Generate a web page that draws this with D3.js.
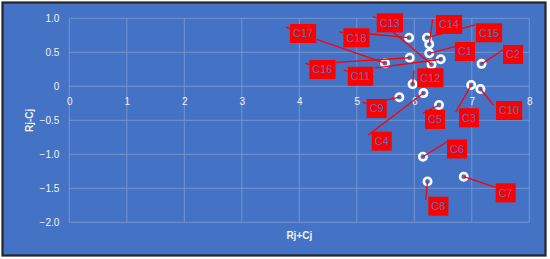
<!DOCTYPE html>
<html>
<head>
<meta charset="utf-8">
<script src="https://cdn.jsdelivr.net/npm/d3@7"></script>
<style>
  body { margin: 0; background: #ffffff; }
  svg { display: block; font-family: "Liberation Sans", Arial, sans-serif; }
</style>
</head>
<body>
<div id="chart"></div>
<script>
//scatter of Rj+Cj against Rj-Cj, one labelled point per criterion

var categories = ["C1","C2","C3","C4","C5","C6","C7","C8","C9","C10","C11","C12","C13","C14","C15","C16","C17","C18"];
var xValues = [6.26, 7.17, 6.99, 6.16, 6.43, 6.15, 6.86, 6.23, 5.74, 7.15, 6.46, 5.97, 6.30, 6.26, 6.22, 5.92, 5.49, 5.91]; //Rj+Cj
var yValues = [0.485, 0.33, 0.02, -0.10, -0.275, -1.035, -1.33, -1.40, -0.16, -0.04, 0.398, 0.03, 0.32, 0.618, 0.715, 0.42, 0.34, 0.715]; //Rj-Cj
var xTicks = [0, 1, 2, 3, 4, 5, 6, 7, 8];
var yTicks = [1.0, 0.5, 0, -0.5, -1.0, -1.5, -2.0];
var yTickLabels = ["1.0", "0.5", "0", "\u22120.5", "\u22121.0", "\u22121.5", "\u22122.0"];

//where each data label box sits, relative to its point (px), and where its leader starts (relative to box)
var labelLayout = {
  C1:  {dx: 25.7,  dy: -11.3, lx: 0,    ly: 4.7},
  C2:  {dx: 21.4,  dy: -18.9, lx: 0,    ly: 5},
  C3:  {dx: -12.2, dy: 23.3,  lx: -3.3, ly: 4},
  C4:  {dx: -51.8, dy: 38.6,  lx: -3.4, ly: 3.3},
  C5:  {dx: -14,   dy: 5,     lx: -2.3, ly: 3.3},
  C6:  {dx: 24.1,  dy: -17.2, lx: 0,    ly: 2.2},
  C7:  {dx: 31.9,  dy: 6.6,   lx: 0,    ly: 4},
  C8:  {dx: 0.8,   dy: 15.2,  lx: -2.6, ly: 3.3},
  C9:  {dx: -32.7, dy: 1.8,   lx: 20.6, ly: 1,    stub: true},
  C10: {dx: 15.6,  dy: 12,    lx: -2.7, ly: 4},
  C11: {dx: -93,   dy: 7.5,   lx: 26.6, ly: 1.3,  stub: true},
  C12: {dx: 4.7,   dy: -16,   lx: -3.3, ly: 2.4},
  C13: {dx: -54.8, dy: -51.2, lx: 16,   ly: 18.4, stub: true},
  C14: {dx: 6.7,   dy: -29.3, lx: -3.3, ly: 4.3},
  C15: {dx: 49,    dy: -14.4, lx: -1,   ly: 1.7},
  C16: {dx: -100.4,dy: 2.3,   lx: 26.7, ly: 2.3,  stub: true},
  C17: {dx: -95,   dy: -39.2, lx: 26.7, ly: 15.3, stub: true},
  C18: {dx: -65.8, dy: -9.4,  lx: 26.7, ly: 5.7,  stub: true}
};

var data = categories.map(function (c, i) {
  return {name: c, x: xValues[i], y: yValues[i]};
});

var width = 550, height = 259;
var blue = "#4472C4";
var gridColour = "#7395d3";

var margin = {top: 18.3, right: 20.7, bottom: 36.7, left: 69.3};
var widthG = width - margin.left - margin.right;
var heightG = height - margin.top - margin.bottom;

var svg = d3.select("#chart").append("svg")
  .attr("width", width)
  .attr("height", height);

//frame
svg.append("rect")
  .attr("x", 2.5)
  .attr("y", 2.5)
  .attr("width", 543)
  .attr("height", 253)
  .attr("fill", blue)
  .attr("stroke", "#262626")
  .attr("stroke-width", 2.2);

var g = svg.append("g")
  .attr("transform", "translate(" + margin.left + "," + margin.top + ")");

var x = d3.scaleLinear().domain([0, 8]).range([0, widthG]);
var y = d3.scaleLinear().domain([-2, 1]).range([heightG, 0]);

//gridlines
g.append("g").selectAll("line")
  .data(yTicks)
  .enter().append("line")
  .attr("x1", 0)
  .attr("x2", widthG)
  .attr("y1", function (d) { return y(d); })
  .attr("y2", function (d) { return y(d); })
  .attr("stroke", gridColour)
  .attr("stroke-width", 1);

g.append("g").selectAll("line")
  .data(xTicks)
  .enter().append("line")
  .attr("x1", function (d) { return x(d); })
  .attr("x2", function (d) { return x(d); })
  .attr("y1", 0)
  .attr("y2", heightG)
  .attr("stroke", gridColour)
  .attr("stroke-width", 1);

//axes
var yAxis = d3.axisLeft(y)
  .tickValues(yTicks)
  .tickSize(0)
  .tickPadding(10)
  .tickFormat(function (d, i) { return yTickLabels[i]; });

var gy = g.append("g").call(yAxis);
gy.select(".domain").remove();
gy.selectAll("text")
  .style("font-size", "10px")
  .style("font-family", "'Liberation Sans', Arial, sans-serif")
  .attr("fill", "#f2f2f2");

var xAxis = d3.axisBottom(x)
  .tickValues(xTicks)
  .tickSize(0)
  .tickPadding(12)
  .tickFormat(d3.format("d"));

var gx = g.append("g")
  .attr("transform", "translate(0," + y(0) + ")")
  .call(xAxis);
gx.select(".domain").remove();
gx.selectAll("text")
  .style("font-size", "10px")
  .style("font-family", "'Liberation Sans', Arial, sans-serif")
  .attr("fill", "#f2f2f2");

//axis titles
g.append("text")
  .attr("transform", "translate(" + (29 - margin.left) + "," + (heightG / 2) + ") rotate(-90)")
  .attr("text-anchor", "middle")
  .attr("dy", "0.35em")
  .attr("fill", "#f2f2f2")
  .style("font-size", "10px")
  .style("font-weight", "bold")
  .text("Rj-Cj");

g.append("text")
  .attr("x", widthG / 2)
  .attr("y", heightG + 16.5)
  .attr("text-anchor", "middle")
  .attr("fill", "#f2f2f2")
  .style("font-size", "10px")
  .style("font-weight", "bold")
  .text("Rj+Cj");

//markers
g.append("g").selectAll("circle")
  .data(data)
  .enter().append("circle")
  .attr("cx", function (d) { return x(d.x); })
  .attr("cy", function (d) { return y(d.y); })
  .attr("r", 3.7)
  .attr("fill", blue)
  .attr("stroke", "#ffffff")
  .attr("stroke-width", 2.6);

//data labels with leader lines (lines first so boxes cover them)
var lines = g.append("g");
var boxes = g.append("g");

data.forEach(function (d) {
  var l = labelLayout[d.name];
  var bx = x(d.x) + l.dx, by = y(d.y) + l.dy;
  lines.append("line")
    .attr("x1", bx + l.lx)
    .attr("y1", by + l.ly)
    .attr("x2", x(d.x))
    .attr("y2", y(d.y))
    .attr("stroke", "#ff0000")
    .attr("stroke-width", 1.3);
  if (l.stub) {
    lines.append("line")
      .attr("x1", bx - 4)
      .attr("y1", by + 3.3)
      .attr("x2", bx)
      .attr("y2", by + 4.5)
      .attr("stroke", "#ff0000")
      .attr("stroke-width", 1.3);
  }
  var lg = boxes.append("g").attr("transform", "translate(" + bx + "," + by + ")");
  var rect = lg.append("rect")
    .attr("height", 19)
    .attr("fill", "#ff0000");
  var t = lg.append("text")
    .attr("x", 3)
    .attr("y", 9.5)
    .attr("dy", "0.36em")
    .attr("fill", "#5470c8")
    .style("font-size", "11px")
    .text(d.name);
  rect.attr("width", t.node().getComputedTextLength() + 6);
});
</script>
</body>
</html>
